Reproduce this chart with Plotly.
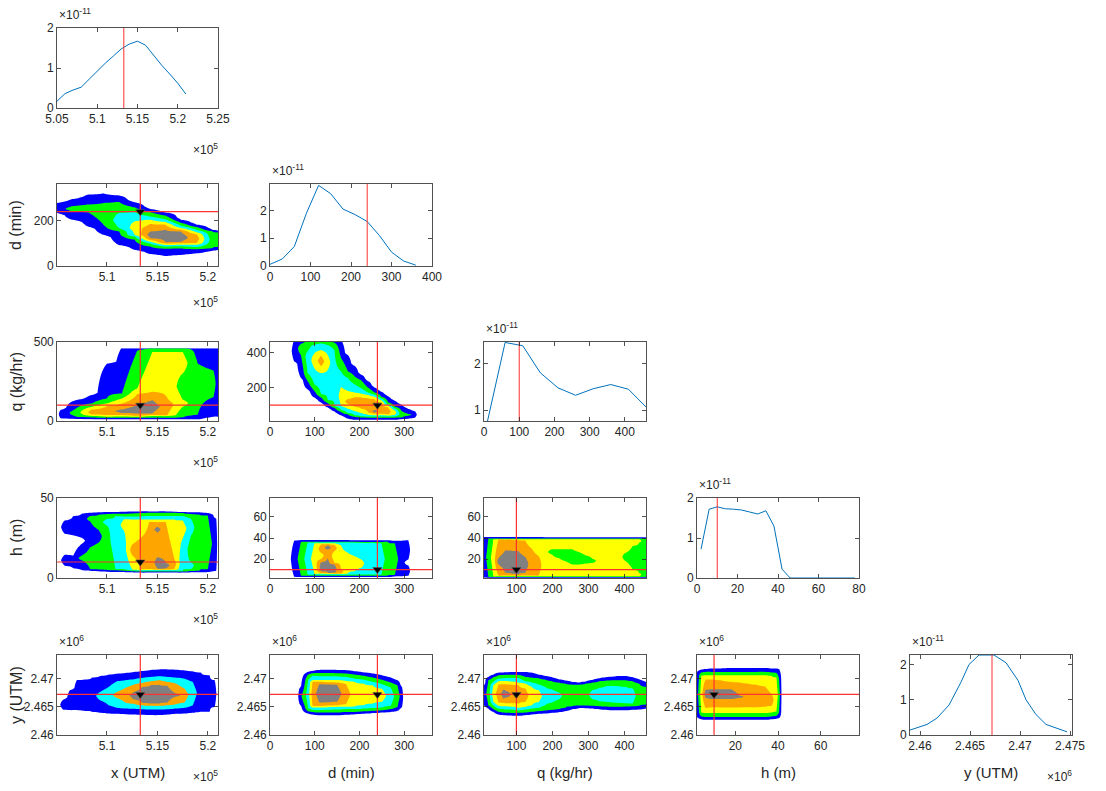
import numpy as np
import plotly.graph_objects as go

W, H = 1106, 791
FONT = "Liberation Sans, Arial, Helvetica, sans-serif"
AXC = "#262626"

# ---------------- parameters ----------------
PARAM_LABELS = ["x (UTM)", "d (min)", "q (kg/hr)", "h (m)", "y (UTM)"]
TRUTH = [5.133, 240, 100, 10, 2.4672]          # x in 1e5 m, y in 1e6 m

# ---------------- marginal densities (values x 1e-11) ----------------
X_GRID = [5.05, 5.06, 5.07, 5.08, 5.09, 5.10, 5.11, 5.12, 5.13, 5.14, 5.15, 5.16, 5.17, 5.18, 5.19, 5.20, 5.21]
X_DENS = [0.17, 0.36, 0.45, 0.52, 0.72, 0.93, 1.12, 1.30, 1.48, 1.60, 1.67, 1.57, 1.32, 1.07, 0.85, 0.62, 0.35]
D_GRID = [0, 30, 60, 90, 120, 150, 180, 210, 240, 270, 300, 330, 360]
D_DENS = [0.06, 0.25, 0.70, 1.90, 2.90, 2.60, 2.05, 1.85, 1.60, 1.10, 0.50, 0.18, 0.03]
Q_GRID = [10, 60, 110, 160, 210, 260, 310, 360, 410, 460]
Q_DENS = [0.77, 2.45, 2.38, 1.80, 1.48, 1.32, 1.46, 1.55, 1.45, 1.07]
H_GRID = [2, 6, 10, 14, 18, 22, 26, 30, 34, 38, 42, 46, 50, 54, 58, 62, 66, 70, 74, 78]
H_DENS = [0.72, 1.72, 1.78, 1.73, 1.72, 1.70, 1.65, 1.60, 1.68, 1.30, 0.22, 0.0, 0.0, 0.0, 0.0, 0.0, 0.0, 0.0, 0.0, 0.0]
Y_GRID = [2.4590, 2.4607, 2.4617, 2.4629, 2.4641, 2.4649, 2.4659, 2.4674, 2.4686, 2.4698, 2.4706, 2.4716, 2.4726, 2.4738, 2.4747]
Y_DENS = [0.14, 0.30, 0.48, 0.85, 1.50, 2.00, 2.27, 2.27, 2.05, 1.55, 1.00, 0.58, 0.30, 0.17, 0.09]

# ---------------- joint-density contour regions ----------------
# level codes: 1 blue, 2 green, 3 cyan, 4 yellow, 5 orange, 6 gray
# each column: [b0, level, b1, level, b2, ...] boundaries along the vertical axis
P21_COLS = [5.0505, 5.066, 5.081, 5.0965, 5.112, 5.1275, 5.143, 5.158, 5.1735, 5.189, 5.2045, 5.21]
P21_RUNS = [
    [234, 1, 278],
    [204, 1, 241, 2, 264, 1, 296],
    [175, 1, 237, 2, 271, 1, 315],
    [138, 1, 182, 2, 278, 1, 320],
    [93, 1, 153, 2, 167, 3, 234, 2, 283, 1, 311],
    [71, 1, 116, 2, 130, 3, 137, 4, 197, 3, 238, 2, 259, 1, 281],
    [53, 1, 86, 2, 99, 3, 107, 4, 114, 5, 122, 6, 152, 5, 185, 4, 204, 3, 219, 2, 238, 1, 252],
    [44, 1, 76, 2, 86, 3, 93, 4, 99, 5, 104, 6, 160, 5, 182, 4, 194, 3, 206, 2, 222, 1, 236],
    [49, 1, 77, 2, 87, 3, 94, 4, 100, 5, 106, 6, 152, 5, 160, 4, 168, 3, 178, 2, 190, 1, 204],
    [56, 1, 74, 2, 84, 3, 94, 4, 102, 5, 140, 4, 148, 3, 160, 2, 172, 1, 182],
    [67, 1, 79, 2, 153, 1, 160],
    [71, 1, 85, 2, 148, 1, 155],
]
P21_LEVELS = [0, 1, 2, 3, 4, 5, 6]

P31_COLS = [5.0505, 5.054, 5.0695, 5.085, 5.100, 5.115, 5.130, 5.145, 5.160, 5.175, 5.190, 5.2055, 5.21]
P31_RUNS = [
    [],
    [17, 1, 69],
    [13, 1, 27, 2, 80, 1, 132],
    [11, 1, 23, 2, 32, 4, 40, 5, 72, 4, 90, 2, 111, 1, 164],
    [6, 1, 21, 2, 27, 4, 38, 5, 94, 4, 111, 2, 143, 1, 363],
    [6, 1, 21, 2, 29, 4, 38, 5, 50, 6, 73, 5, 111, 4, 143, 2, 174, 1, 470],
    [6, 1, 21, 2, 27, 4, 32, 5, 48, 6, 101, 5, 170, 4, 206, 2, 445, 1, 470],
    [6, 1, 21, 2, 31, 4, 38, 5, 48, 6, 132, 5, 185, 4, 437, 2, 470],
    [6, 1, 21, 2, 31, 4, 38, 5, 143, 4, 437, 2, 470],
    [6, 1, 23, 2, 90, 4, 135, 2, 300, 4, 437, 2, 470],
    [8, 1, 40, 2, 470],
    [27, 1, 150, 2, 320, 1, 470],
    [27, 1, 470],
]
P31_LEVELS = [0, 1, 2, 4, 5, 6]

P32_COLS = [0, 43, 54, 69, 84, 99, 114, 129, 144, 159, 174, 189, 204, 219, 234, 249, 264, 279, 294, 309, 324, 332, 362]
P32_RUNS = [
    [],
    [],
    [349, 1, 470],
    [256, 1, 386, 2, 470],
    [190, 1, 237, 2, 283, 3, 470],
    [144, 1, 181, 2, 218, 3, 311, 4, 395, 3, 470],
    [116, 1, 144, 2, 163, 3, 283, 4, 321, 5, 382, 4, 414, 3, 470],
    [88, 1, 112, 2, 129, 3, 302, 4, 386, 3, 470],
    [64, 1, 84, 2, 97, 3, 414, 2, 470],
    [42, 1, 60, 2, 73, 3, 97, 4, 203, 3, 293, 2, 367, 1, 470],
    [23, 1, 47, 2, 55, 3, 79, 4, 107, 5, 135, 4, 181, 3, 256, 2, 293, 1, 386],
    [17, 1, 34, 2, 43, 3, 66, 4, 92, 5, 144, 4, 172, 3, 218, 2, 265, 1, 324],
    [17, 1, 30, 2, 36, 3, 55, 4, 79, 5, 144, 4, 166, 3, 196, 2, 243, 1, 274],
    [17, 1, 29, 2, 36, 3, 45, 4, 60, 5, 140, 4, 159, 3, 172, 2, 200, 1, 237],
    [17, 1, 29, 2, 36, 3, 42, 4, 51, 5, 57, 6, 73, 5, 135, 4, 148, 3, 159, 2, 172, 1, 200],
    [17, 1, 29, 2, 36, 3, 43, 4, 51, 5, 116, 4, 128, 3, 138, 2, 148, 1, 176],
    [17, 1, 29, 2, 36, 3, 40, 4, 47, 5, 88, 4, 100, 3, 104, 2, 116, 1, 150],
    [17, 1, 29, 2, 36, 3, 45, 4, 70, 3, 80, 2, 92, 1, 125],
    [21, 1, 29, 2, 66, 1, 103],
    [23, 1, 40, 2, 50, 1, 79],
    [29, 1, 64],
    [],
    [],
]
P32_LEVELS = [0, 1, 2, 3, 4, 5, 6]

P41_COLS = [5.0507, 5.0583, 5.0667, 5.075, 5.0833, 5.0917, 5.1, 5.1083, 5.1167, 5.125, 5.1333,
            5.1417, 5.15, 5.1583, 5.1667, 5.175, 5.1833, 5.1917, 5.2, 5.2083, 5.21]
P41_RUNS = [
    [],
    [7.7, 1, 14.5, 0, 27.6, 1, 36],
    [6, 1, 14, 0, 26.6, 1, 38.7],
    [5, 1, 11, 2, 14, 1, 21.3, 0, 25.1, 1, 40.2],
    [4.6, 1, 5.6, 2, 19.2, 1, 35.4, 2, 38.7, 1, 40.8],
    [4.3, 1, 5.2, 2, 22, 1, 30, 2, 39.5, 1, 41],
    [4, 1, 5, 2, 32.8, 3, 37, 2, 40, 1, 41.2],
    [3.8, 1, 4.8, 2, 5.6, 3, 39, 2, 40.2, 1, 41.2],
    [3.7, 1, 4.6, 2, 5.5, 3, 29.7, 4, 36.6, 3, 38.5, 2, 40.2, 1, 41.4],
    [3.6, 1, 4.3, 2, 4.8, 3, 5.3, 4, 14, 5, 21, 4, 36.6, 3, 38.5, 2, 40.4, 1, 41.5],
    [3.4, 1, 4, 2, 4.5, 3, 5, 4, 5.6, 5, 25, 4, 36.6, 3, 38.5, 2, 40.6, 1, 41.6],
    [3.4, 1, 4, 2, 4.5, 3, 5, 4, 5.6, 5, 34.9, 4, 36.6, 3, 38.7, 2, 40.8, 1, 41.6],
    [3.4, 1, 4, 2, 4.5, 3, 5, 4, 5.3, 5, 5.8, 6, 13, 5, 28.5, 6, 32, 5, 34.9, 4, 36.6, 3, 38.7, 2, 40.8, 1, 41.6],
    [3.4, 1, 4, 2, 4.5, 3, 5, 4, 5.3, 5, 5.8, 6, 9.5, 5, 34.9, 4, 36.6, 3, 38.7, 2, 40.8, 1, 41.6],
    [3.4, 1, 4, 2, 4.5, 3, 5, 4, 5.5, 5, 12, 4, 36.6, 3, 38.7, 2, 40.8, 1, 41.4],
    [3.4, 1, 4, 2, 4.6, 3, 24.5, 4, 36, 3, 38.7, 2, 40.6, 1, 41.2],
    [3.6, 1, 4.4, 2, 5.6, 3, 9.8, 2, 26.6, 3, 37, 2, 40, 1, 41],
    [3.6, 1, 4.6, 2, 39.5, 1, 41],
    [3.8, 1, 5.6, 2, 39, 1, 40.6],
    [4.6, 1, 37],
    [],
]
P41_LEVELS = [0, 1, 2, 3, 4, 5, 6]

P42_COLS = [39, 54, 69, 84, 99, 114, 129, 144, 159, 174, 189, 204, 219, 234, 249, 264, 279, 294, 309, 317]
P42_RUNS = [
    [],
    [3, 1, 37.5],
    [3, 1, 4.2, 2, 36.3, 1, 38],
    [3, 1, 4.2, 2, 5.2, 3, 35.7, 2, 36.5, 1, 38],
    [3, 1, 4.2, 2, 5.2, 3, 6, 4, 35, 3, 35.7, 2, 36.5, 1, 38.2],
    [3, 1, 4.2, 2, 5.2, 3, 6, 4, 6.8, 5, 8.4, 6, 17, 5, 20, 4, 26, 5, 34, 4, 35, 3, 35.7, 2, 36.5, 1, 38.2],
    [3, 1, 4.2, 2, 5.2, 3, 5.8, 4, 6.5, 5, 7, 6, 21, 5, 29, 6, 33, 5, 34.2, 4, 35, 3, 35.7, 2, 36.5, 1, 38.2],
    [3, 1, 4.2, 2, 5.2, 3, 5.8, 4, 6.3, 5, 6.8, 6, 14.8, 5, 16.4, 4, 27.7, 5, 33.5, 4, 35, 3, 35.7, 2, 36.5, 1, 38],
    [3, 1, 4.2, 2, 5.2, 3, 5.8, 4, 6.2, 5, 10, 4, 33, 3, 35.7, 2, 36.5, 1, 38],
    [3, 1, 4.2, 2, 5.2, 3, 6.2, 4, 26.1, 3, 35.7, 2, 36.5, 1, 38],
    [3, 1, 4.2, 2, 5.2, 3, 8.4, 4, 22.8, 3, 35.7, 2, 36.5, 1, 37.8],
    [3, 1, 4.2, 2, 5.2, 3, 11.6, 4, 19.6, 3, 35.5, 2, 36.3, 1, 37.8],
    [3, 1, 4.2, 2, 5.2, 3, 35.5, 2, 36.3, 1, 37.8],
    [3, 1, 4.2, 2, 5.2, 3, 35.5, 2, 36.3, 1, 37.8],
    [3, 1, 4.2, 2, 5.2, 3, 35, 2, 36.3, 1, 37.8],
    [3, 1, 4.2, 2, 36.3, 1, 37.8],
    [3.6, 1, 5, 2, 35, 1, 37.5],
    [3.6, 1, 37.5],
    [4, 1, 14, 0, 19.6, 1, 37.8],
    [],
]
P42_LEVELS = [0, 1, 2, 3, 4, 5, 6]

P43_COLS = [10, 22, 36, 50, 69, 87, 106, 125, 143, 162, 180.5, 199, 218, 236, 255, 274, 292, 311,
            330, 348, 367, 385, 404, 423, 441, 460]
P43_RUNS = [
    [2.3, 1, 41],
    [2.3, 1, 3, 2, 39.5, 1, 41],
    [2.3, 1, 3, 2, 3.6, 4, 38.9, 2, 39.5, 1, 41],
    [2.3, 1, 3, 2, 3.6, 4, 4.2, 5, 14.8, 6, 21, 5, 38.5, 4, 38.9, 2, 39.5, 1, 41],
    [2.3, 1, 3, 2, 3.6, 4, 4.2, 5, 6.8, 6, 28.3, 5, 38.5, 4, 38.9, 2, 39.5, 1, 41],
    [2.3, 1, 3, 2, 3.6, 4, 4.2, 5, 6, 6, 28, 5, 38.5, 4, 38.9, 2, 39.5, 1, 41],
    [2.3, 1, 3, 2, 3.6, 4, 4.2, 5, 5.2, 6, 27.5, 5, 38, 4, 38.9, 2, 39.5, 1, 41],
    [2.3, 1, 3, 2, 3.6, 4, 4.2, 5, 6.8, 6, 22, 5, 37.5, 4, 38.9, 2, 39.5, 1, 41],
    [2.3, 1, 3, 2, 3.6, 4, 4.2, 5, 30, 4, 38.9, 2, 39.5, 1, 41],
    [2.3, 1, 3, 2, 3.6, 4, 4.2, 5, 22.8, 4, 38.9, 2, 39.5, 1, 41],
    [2.3, 1, 3, 2, 3.6, 4, 38.9, 2, 39.5, 1, 40.8],
    [2.3, 1, 3, 2, 3.6, 4, 24.4, 2, 29.3, 4, 38.9, 2, 39.5, 1, 40.8],
    [2.3, 1, 3, 2, 3.6, 4, 21, 2, 29.3, 4, 38.9, 2, 39.5, 1, 40.8],
    [2.3, 1, 3, 2, 3.6, 4, 18, 2, 29.3, 4, 38.9, 2, 39.5, 1, 40.8],
    [2.3, 1, 3, 2, 3.6, 4, 14.8, 2, 29.3, 4, 38.9, 2, 39.5, 1, 40.8],
    [2.3, 1, 3, 2, 3.6, 4, 14.8, 2, 26.7, 4, 38.9, 2, 39.5, 1, 40.8],
    [2.3, 1, 3, 2, 3.6, 4, 15.8, 2, 23.5, 4, 38.9, 2, 39.5, 1, 40.8],
    [2.3, 1, 3, 2, 3.6, 4, 16.4, 2, 20.3, 4, 38.9, 2, 39.5, 1, 40.8],
    [2.3, 1, 3, 2, 3.6, 4, 38.9, 2, 39.5, 1, 40.8],
    [2.3, 1, 3, 2, 3.6, 4, 38.9, 2, 39.5, 1, 40.8],
    [2.3, 1, 3, 2, 3.6, 4, 38.9, 2, 39.5, 1, 40.8],
    [2.3, 1, 3, 2, 3.6, 4, 38.9, 2, 39.5, 1, 40.8],
    [2.3, 1, 3, 2, 3.6, 4, 18, 2, 26, 4, 38.9, 2, 39.5, 1, 40.8],
    [2.3, 1, 3, 2, 3.6, 4, 10, 2, 32.5, 4, 38.9, 2, 39.5, 1, 40.8],
    [2.3, 1, 3, 2, 3.6, 4, 6.8, 2, 35.7, 4, 38.9, 2, 39.5, 1, 40.8],
    [2.3, 1, 3.2, 2, 39.5, 1, 40.8],
]
P43_LEVELS = [0, 1, 2, 4, 5, 6]

P51_COLS = [5.0507, 5.0567, 5.0633, 5.07, 5.0767, 5.085, 5.0933, 5.1017, 5.11, 5.1183, 5.1267,
            5.135, 5.1433, 5.1517, 5.16, 5.1683, 5.1767, 5.185, 5.1933, 5.2017, 5.2067, 5.21]
P51_RUNS = [
    [],
    [2.4645, 1, 2.4663],
    [2.46441, 1, 2.46794],
    [2.46441, 1, 2.46971],
    [2.4643, 1, 2.46982],
    [2.46412, 1, 2.47018],
    [2.46394, 1, 2.46618, 3, 2.46765, 1, 2.47047],
    [2.46382, 1, 2.46529, 3, 2.46853, 1, 2.47071],
    [2.46376, 1, 2.46482, 3, 2.46659, 5, 2.46765, 3, 2.46953, 1, 2.47088],
    [2.4637, 1, 2.46471, 3, 2.46576, 5, 2.46835, 3, 2.46971, 1, 2.471],
    [2.46365, 1, 2.46465, 3, 2.46553, 5, 2.4663, 6, 2.46765, 5, 2.46894, 3, 2.46988, 1, 2.47118],
    [2.46359, 1, 2.46459, 3, 2.46529, 5, 2.4657, 6, 2.46853, 5, 2.46924, 3, 2.47012, 1, 2.47135],
    [2.46353, 1, 2.46453, 3, 2.46518, 5, 2.46559, 6, 2.46882, 5, 2.46953, 3, 2.47029, 1, 2.47153],
    [2.46353, 1, 2.46453, 3, 2.46518, 5, 2.46559, 6, 2.46894, 5, 2.46971, 3, 2.47041, 1, 2.47165],
    [2.46365, 1, 2.46459, 3, 2.46529, 5, 2.46576, 6, 2.4687, 5, 2.46941, 3, 2.47029, 1, 2.47165],
    [2.46376, 1, 2.46471, 3, 2.46547, 5, 2.46682, 6, 2.46735, 5, 2.46912, 3, 2.47018, 1, 2.47159],
    [2.46382, 1, 2.46482, 3, 2.46576, 5, 2.46824, 3, 2.47, 1, 2.47147],
    [2.46394, 1, 2.46529, 3, 2.46941, 1, 2.47129],
    [2.46412, 1, 2.47106],
    [2.46412, 1, 2.47059],
    [2.465, 1, 2.46971],
    [],
]
P51_LEVELS = [0, 1, 3, 5, 6]

P52_COLS = [60, 66, 75, 85, 95, 110, 130, 150, 170, 190, 210, 230, 250, 270, 285, 295, 300]
P52_RUNS = [
    [],
    [2.4655, 1, 2.4683],
    [2.46423, 1, 2.4657, 2, 2.4680, 1, 2.47061],
    [2.46382, 1, 2.46423, 2, 2.46481, 3, 2.46974, 2, 2.47072, 1, 2.47119],
    [2.46365, 1, 2.46406, 2, 2.4645, 3, 2.4649, 4, 2.4652, 5, 2.4694, 4, 2.4697, 3, 2.4705, 2, 2.47095, 1, 2.47136],
    [2.46352, 1, 2.464, 2, 2.46445, 3, 2.4649, 4, 2.46515, 5, 2.46575, 6, 2.469, 5, 2.46945, 4, 2.46974, 3, 2.47043, 2, 2.47101, 1, 2.47155],
    [2.46352, 1, 2.464, 2, 2.46448, 3, 2.46495, 4, 2.46522, 5, 2.4658, 6, 2.46898, 5, 2.46935, 4, 2.46974, 3, 2.47043, 2, 2.47101, 1, 2.4716],
    [2.46352, 1, 2.464, 2, 2.46452, 3, 2.46499, 4, 2.4653, 5, 2.4659, 6, 2.4689, 5, 2.4693, 4, 2.46974, 3, 2.4704, 2, 2.47095, 1, 2.47155],
    [2.4636, 1, 2.4641, 2, 2.4646, 3, 2.465, 4, 2.4655, 5, 2.469, 4, 2.4696, 3, 2.4703, 2, 2.4709, 1, 2.4715],
    [2.4637, 1, 2.4641, 2, 2.4646, 3, 2.4651, 4, 2.4694, 3, 2.47, 2, 2.4707, 1, 2.4713],
    [2.4638, 1, 2.4642, 2, 2.4647, 3, 2.4653, 4, 2.4691, 3, 2.4698, 2, 2.4705, 1, 2.4711],
    [2.4639, 1, 2.4643, 2, 2.4648, 3, 2.4656, 4, 2.4688, 3, 2.4694, 2, 2.4702, 1, 2.4709],
    [2.464, 1, 2.4644, 2, 2.4649, 3, 2.4659, 4, 2.4682, 3, 2.469, 2, 2.4698, 1, 2.4706],
    [2.4641, 1, 2.4646, 2, 2.4652, 3, 2.4684, 2, 2.4693, 1, 2.4702],
    [2.4643, 1, 2.465, 2, 2.4688, 1, 2.4697],
    [2.465, 1, 2.4685],
    [],
]
P52_LEVELS = [0, 1, 2, 3, 4, 5, 6]

P53_COLS = [10, 22, 36, 50, 64, 78, 92, 106, 125, 143, 162, 180, 199, 218, 236, 255, 274, 292, 311,
            330, 348, 367, 385, 404, 423, 441, 460]
P53_RUNS = [
    [2.4653, 1, 2.4688],
    [2.46471, 1, 2.46529, 2, 2.46971, 1, 2.47029],
    [2.46412, 1, 2.46459, 2, 2.46529, 3, 2.46588, 4, 2.46882, 3, 2.46941, 2, 2.47024, 1, 2.4707],
    [2.46365, 1, 2.46412, 2, 2.46471, 3, 2.46518, 4, 2.46576, 5, 2.46894, 4, 2.46953, 3, 2.47, 2, 2.47059, 1, 2.47106],
    [2.46353, 1, 2.464, 2, 2.46459, 3, 2.4651, 4, 2.4657, 5, 2.46647, 6, 2.46806, 5, 2.469, 4, 2.4696, 3, 2.47006, 2, 2.47065, 1, 2.4711],
    [2.46347, 1, 2.46394, 2, 2.46453, 3, 2.46506, 4, 2.46565, 5, 2.46676, 6, 2.46765, 5, 2.46895, 4, 2.46953, 3, 2.47012, 2, 2.4707, 1, 2.47115],
    [2.46344, 1, 2.4639, 2, 2.4645, 3, 2.465, 4, 2.46562, 5, 2.46888, 4, 2.46947, 3, 2.47012, 2, 2.4707, 1, 2.47118],
    [2.46341, 1, 2.46394, 2, 2.46441, 3, 2.46482, 4, 2.46559, 5, 2.46882, 4, 2.46929, 3, 2.47012, 2, 2.47065, 1, 2.47118],
    [2.46353, 1, 2.464, 2, 2.46453, 3, 2.465, 4, 2.46588, 5, 2.46824, 4, 2.46912, 3, 2.46953, 2, 2.47029, 1, 2.47118],
    [2.46365, 1, 2.46412, 2, 2.46471, 3, 2.46529, 4, 2.46853, 3, 2.46929, 2, 2.47018, 1, 2.47106],
    [2.46376, 1, 2.46424, 2, 2.46482, 3, 2.46588, 4, 2.46794, 3, 2.46894, 2, 2.47006, 1, 2.47071],
    [2.46382, 1, 2.46435, 2, 2.46529, 3, 2.46853, 2, 2.46982, 1, 2.47047],
    [2.46394, 1, 2.46447, 2, 2.46576, 3, 2.46806, 2, 2.46953, 1, 2.47024],
    [2.46406, 1, 2.46459, 2, 2.46635, 3, 2.46753, 2, 2.46929, 1, 2.46988],
    [2.46424, 1, 2.46482, 2, 2.46912, 1, 2.46965],
    [2.46459, 1, 2.46512, 2, 2.46894, 1, 2.46941],
    [2.46476, 1, 2.46524, 2, 2.46894, 1, 2.46929],
    [2.46476, 1, 2.46524, 2, 2.46912, 1, 2.46947],
    [2.46471, 1, 2.46518, 2, 2.46635, 3, 2.46794, 2, 2.46929, 1, 2.46976],
    [2.46459, 1, 2.46512, 2, 2.466, 3, 2.46835, 2, 2.46953, 1, 2.47006],
    [2.46447, 1, 2.46506, 2, 2.46588, 3, 2.46865, 2, 2.46965, 1, 2.47024],
    [2.46441, 1, 2.465, 2, 2.46576, 3, 2.46871, 2, 2.46971, 1, 2.47035],
    [2.46441, 1, 2.465, 2, 2.4657, 3, 2.46865, 2, 2.46971, 1, 2.47047],
    [2.46441, 1, 2.46506, 2, 2.46565, 3, 2.46853, 2, 2.46971, 1, 2.47047],
    [2.46447, 1, 2.46512, 2, 2.46559, 3, 2.46824, 2, 2.46953, 1, 2.47024],
    [2.46453, 1, 2.46518, 2, 2.46912, 1, 2.46988],
    [2.46471, 1, 2.46541, 2, 2.46853, 1, 2.46941],
]
P53_LEVELS = [0, 1, 2, 3, 4, 5, 6]

P54_COLS = [2, 4, 6, 9, 13, 18, 22, 26, 30, 34, 37, 39.3, 40.5, 42]
P54_RUNS = [
    [2.4632, 1, 2.4712],
    [2.4628, 1, 2.4633, 2, 2.4640, 4, 2.4705, 2, 2.4711, 1, 2.4716],
    [2.4627, 1, 2.4632, 2, 2.4639, 4, 2.4648, 5, 2.4666, 6, 2.4680, 5, 2.46985, 4, 2.4706, 2, 2.4712, 1, 2.4717],
    [2.4627, 1, 2.4632, 2, 2.4639, 4, 2.4649, 5, 2.46638, 6, 2.46811, 5, 2.46985, 4, 2.4706, 2, 2.4712, 1, 2.4718],
    [2.4627, 1, 2.4632, 2, 2.4639, 4, 2.4649, 5, 2.4664, 6, 2.4681, 5, 2.4697, 4, 2.4706, 2, 2.4712, 1, 2.4718],
    [2.4627, 1, 2.4632, 2, 2.4639, 4, 2.4649, 5, 2.4664, 6, 2.4681, 5, 2.4694, 4, 2.4706, 2, 2.4712, 1, 2.4719],
    [2.4627, 1, 2.4632, 2, 2.4639, 4, 2.4649, 5, 2.4666, 6, 2.4670, 5, 2.4693, 4, 2.4706, 2, 2.4712, 1, 2.4719],
    [2.4627, 1, 2.4632, 2, 2.4639, 4, 2.4649, 5, 2.4691, 4, 2.4706, 2, 2.4712, 1, 2.4719],
    [2.4627, 1, 2.4632, 2, 2.4639, 4, 2.4649, 5, 2.4689, 4, 2.4706, 2, 2.4712, 1, 2.4719],
    [2.4627, 1, 2.4632, 2, 2.4639, 4, 2.4650, 5, 2.4686, 4, 2.4706, 2, 2.4712, 1, 2.4719],
    [2.4628, 1, 2.4633, 2, 2.4640, 4, 2.4652, 5, 2.4672, 4, 2.4705, 2, 2.4711, 1, 2.4718],
    [2.4629, 1, 2.4634, 2, 2.4642, 4, 2.4702, 2, 2.4710, 1, 2.4718],
    [2.4630, 1, 2.4640, 2, 2.4700, 1, 2.4717],
    [],
]
P54_LEVELS = [0, 1, 2, 4, 5, 6]

# ---------------- styling ----------------
LEVEL_COLORS = {0: "#FFFFFF", 1: "#0000FF", 2: "#00FF00", 3: "#00FFFF",
                4: "#FFFF00", 5: "#FFA500", 6: "#808080"}
LINE_BLUE = "#0072BD"
TRUE_RED = "#FF3030"

COLS_PX = [(57, 218), (270, 432), (484, 646), (697, 859), (910, 1072)]
ROWS_PX = [(28, 108), (184, 266), (342, 421), (498, 578), (655, 735)]


def dom_x(c):
    return [COLS_PX[c][0] / W, COLS_PX[c][1] / W]


def dom_y(r):
    return [1 - ROWS_PX[r][1] / H, 1 - ROWS_PX[r][0] / H]


def build_field(cols, runs, levels, ylo, yhi, n=320):
    ys = np.linspace(ylo, yhi, n)
    span = yhi - ylo
    Z = np.zeros((n, len(cols)))
    for j, run in enumerate(runs):
        if not run:
            continue
        bounds = run[0::2]
        lev = [levels.index(v) for v in run[1::2]]
        kx = [bounds[0] - 0.03 * span]
        kv = [0.0]
        prev = 0
        for i, b in enumerate(bounds):
            nxt = lev[i] if i < len(lev) else 0
            kx.append(b)
            kv.append((prev + nxt) / 2.0)
            if i < len(lev):
                kx.append((b + bounds[i + 1]) / 2.0)
                kv.append(float(lev[i]))
            prev = nxt
        kx.append(bounds[-1] + 0.03 * span)
        kv.append(0.0)
        Z[:, j] = np.interp(ys, kx, kv)
    return ys, Z


def colorscale(levels):
    n = len(levels) - 1
    cs = []
    for k, code in enumerate(levels):
        lo = max(0.0, (k - 0.5) / n)
        hi = min(1.0, (k + 0.5) / n)
        cs.append([lo, LEVEL_COLORS[code]])
        cs.append([hi, LEVEL_COLORS[code]])
    return cs


def fmt(v):
    return ("%.4f" % v).rstrip("0").rstrip(".")


fig = go.Figure()
layout = dict(template="none", width=W, height=H, autosize=False,
              margin=dict(l=0, r=0, t=0, b=0, pad=0),
              paper_bgcolor="white", plot_bgcolor="white", showlegend=False,
              font=dict(family=FONT, size=12, color=AXC))
annotations = []

AXSTYLE = dict(showline=True, linecolor=AXC, linewidth=0.8, mirror="ticks", ticks="inside",
               ticklen=4, tickcolor=AXC, tickwidth=0.8, showgrid=False, zeroline=False,
               automargin=False, tickfont=dict(family=FONT, size=12, color=AXC), fixedrange=True)

CONTOURS = {
    (1, 0): (P21_COLS, P21_RUNS, P21_LEVELS, [0, 362]),
    (2, 0): (P31_COLS, P31_RUNS, P31_LEVELS, [10, 460]),
    (2, 1): (P32_COLS, P32_RUNS, P32_LEVELS, [10, 460]),
    (3, 0): (P41_COLS, P41_RUNS, P41_LEVELS, [2, 50]),
    (3, 1): (P42_COLS, P42_RUNS, P42_LEVELS, [2, 78]),
    (3, 2): (P43_COLS, P43_RUNS, P43_LEVELS, [2, 78]),
    (4, 0): (P51_COLS, P51_RUNS, P51_LEVELS, [2.46, 2.4742]),
    (4, 1): (P52_COLS, P52_RUNS, P52_LEVELS, [2.46, 2.4742]),
    (4, 2): (P53_COLS, P53_RUNS, P53_LEVELS, [2.46, 2.4742]),
    (4, 3): (P54_COLS, P54_RUNS, P54_LEVELS, [2.46, 2.4742]),
}

X_AX = {0: ([5.0505, 5.21], [5.1, 5.15, 5.2]),
        1: ([0, 362], [0, 100, 200, 300]),
        2: ([10, 460], [100, 200, 300, 400]),
        3: ([2, 78], [20, 40, 60])}
Y_AX = {(1, 0): ([0, 362], [0, 200]),
        (2, 0): ([0, 500], [0, 500]),
        (2, 1): ([10, 460], [200, 400]),
        (3, 0): ([0, 50], [0, 50]),
        (3, 1): ([2, 78], [20, 40, 60]),
        (3, 2): ([2, 78], [20, 40, 60]),
        (4, 0): ([2.46, 2.4742], [2.46, 2.465, 2.47]),
        (4, 1): ([2.46, 2.4742], [2.46, 2.465, 2.47]),
        (4, 2): ([2.46, 2.4742], [2.46, 2.465, 2.47]),
        (4, 3): ([2.46, 2.4742], [2.46, 2.465, 2.47])}

MARG = {0: (X_GRID, X_DENS, [5.05, 5.25], [5.05, 5.1, 5.15, 5.2, 5.25], [0, 2], [0, 1, 2]),
        1: (D_GRID, D_DENS, [0, 400], [0, 100, 200, 300, 400], [0, 2.95], [0, 1, 2]),
        2: (Q_GRID, Q_DENS, [0, 460], [0, 100, 200, 300, 400], [0.77, 2.46], [1, 2]),
        3: (H_GRID, H_DENS, [0, 80], [0, 20, 40, 60, 80], [0, 2], [0, 1, 2]),
        4: (Y_GRID, Y_DENS, [2.459, 2.4752], [2.46, 2.465, 2.47, 2.475], [0, 2.27], [0, 1, 2])}

k = 0
for r in range(5):
    for c in range(r + 1):
        k += 1
        xa = "x" if k == 1 else "x%d" % k
        ya = "y" if k == 1 else "y%d" % k
        xkey = "xaxis" if k == 1 else "xaxis%d" % k
        ykey = "yaxis" if k == 1 else "yaxis%d" % k
        if r == c:
            gx, gv, xr, xt, yr, yt = MARG[c]
            fig.add_trace(go.Scatter(x=gx, y=gv, xaxis=xa, yaxis=ya, mode="lines",
                                     line=dict(color=LINE_BLUE, width=1), hoverinfo="skip"))
            fig.add_trace(go.Scatter(x=[TRUTH[c], TRUTH[c]], y=yr, xaxis=xa, yaxis=ya, mode="lines",
                                     line=dict(color=TRUE_RED, width=1), hoverinfo="skip"))
        else:
            cols, runs, levels, yg = CONTOURS[(r, c)]
            ys, Z = build_field(cols, runs, levels, yg[0], yg[1])
            n = len(levels) - 1
            fig.add_trace(go.Contour(x=cols, y=ys, z=Z, xaxis=xa, yaxis=ya, autocontour=False,
                                     contours=dict(start=0.5, end=n - 0.5, size=1, coloring="fill",
                                                   showlines=False),
                                     colorscale=colorscale(levels), showscale=False,
                                     line=dict(width=0, smoothing=1.0), hoverinfo="skip"))
            xr, xt = X_AX[c]
            yr, yt = Y_AX[(r, c)]
            fig.add_trace(go.Scatter(x=[TRUTH[c], TRUTH[c]], y=yr, xaxis=xa, yaxis=ya, mode="lines",
                                     line=dict(color=TRUE_RED, width=1.2), hoverinfo="skip"))
            fig.add_trace(go.Scatter(x=xr, y=[TRUTH[r], TRUTH[r]], xaxis=xa, yaxis=ya, mode="lines",
                                     line=dict(color=TRUE_RED, width=1.2), hoverinfo="skip"))
            fig.add_trace(go.Scatter(x=[TRUTH[c]], y=[TRUTH[r]], xaxis=xa, yaxis=ya, mode="markers",
                                     marker=dict(symbol="triangle-down", size=8, color="black",
                                                 line=dict(width=0.6, color="#555555")),
                                     hoverinfo="skip"))
        layout[xkey] = dict(AXSTYLE, domain=dom_x(c), anchor=ya, range=xr,
                            tickvals=xt, ticktext=[fmt(v) for v in xt])
        layout[ykey] = dict(AXSTYLE, domain=dom_y(r), anchor=xa, range=yr,
                            tickvals=yt, ticktext=[fmt(v) for v in yt])


def ann(text, x, y, xanchor="left", yanchor="bottom", size=12, angle=0):
    annotations.append(dict(text=text, x=x / W, y=1 - y / H, xref="paper", yref="paper",
                            xanchor=xanchor, yanchor=yanchor, showarrow=False, textangle=angle,
                            font=dict(family=FONT, size=size, color=AXC)))


EXP11 = "\u00d710<sup>-11</sup>"
EXP5 = "\u00d710<sup>5</sup>"
EXP6 = "\u00d710<sup>6</sup>"

for i in range(5):
    ann(EXP11, COLS_PX[i][0], ROWS_PX[i][0] - 4)
for r in range(5):
    ann(EXP5, COLS_PX[0][1] + 2, ROWS_PX[r][1] + (26 if r == 1 else 31), xanchor="right", yanchor="top")
for c in range(4):
    ann(EXP6, COLS_PX[c][0], ROWS_PX[4][0] - 4)
ann(EXP6, COLS_PX[4][1] + 2, ROWS_PX[4][1] + 31, xanchor="right", yanchor="top")

for r in range(1, 5):
    yc = (ROWS_PX[r][0] + ROWS_PX[r][1]) / 2
    ann(PARAM_LABELS[r], 16, yc, xanchor="center", yanchor="middle", size=16, angle=-90)
for c in range(5):
    xc = (COLS_PX[c][0] + COLS_PX[c][1]) / 2
    ann(PARAM_LABELS[c], xc, 772, xanchor="center", yanchor="middle", size=15)

layout["annotations"] = annotations
fig.update_layout(**layout)
fig.write_html("out.html", config={"displayModeBar": False, "staticPlot": True},
               post_script="document.body.style.margin='0px';document.body.style.overflow='hidden';")
